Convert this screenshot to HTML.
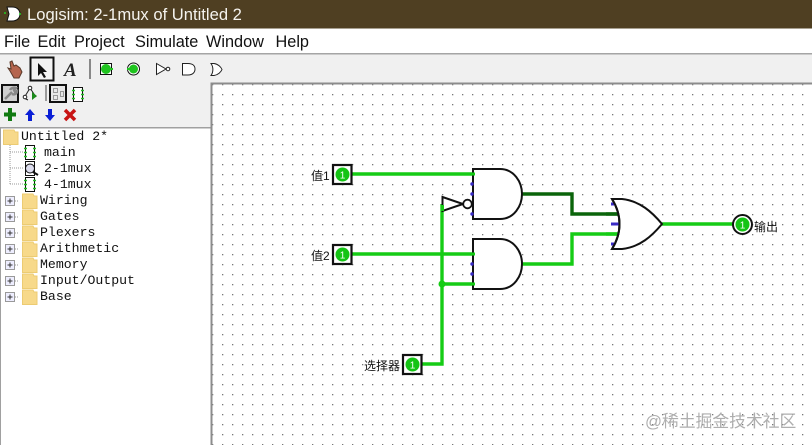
<!DOCTYPE html>
<html><head><meta charset="utf-8"><style>
html,body{margin:0;padding:0;background:#fff}
svg{display:block}
text{font-family:"Liberation Sans","Noto Sans CJK SC",sans-serif}
.m{font-family:"Liberation Mono","Noto Sans CJK SC",monospace;font-size:13.2px;fill:#111}
</style></head><body>
<svg width="812" height="445" viewBox="0 0 812 445" xmlns="http://www.w3.org/2000/svg">
<defs>
<pattern id="g" x="222" y="84" width="10" height="10" patternUnits="userSpaceOnUse"><rect width="1.3" height="1.3" fill="#777"/></pattern>
<g id="folder"><path d="M0.5 1H11L12 3H15V15.5H0.5Z" fill="#f7d98a" stroke="#eccb72" stroke-width="1"/></g>
<g id="plus"><rect x="0.5" y="0.5" width="9" height="9" fill="#eef" stroke="#999"/><path d="M2.5 5H7.5M5 2.5V7.5" stroke="#333"/><path d="M10 5H14" stroke="#999" stroke-dasharray="1 1"/></g>
<g id="chip"><rect x="0.5" y="0.5" width="9" height="14" fill="#fff" stroke="#111"/><path d="M-1 3.500H2M-1 7.500H2M-1 11.500H2M8 3.500H11M8 7.500H11M8 11.500H11" stroke="#22bb22" stroke-width="1.500"/></g>
</defs>
<rect width="812" height="445" fill="#fff"/>
<!-- title -->
<rect width="812" height="28.500" fill="#4f3f22"/>
<path d="M7 7H12C18 7 20 11 20 14C20 17 18 21 12 21H7L9 14Z" fill="#fff" stroke="#111"/>
<circle cx="5" cy="13" r="1" fill="#2c2"/><circle cx="20" cy="14" r="1" fill="#2c2"/>
<text x="27" y="20" font-size="16.600" fill="#f5f3ee">Logisim: 2-1mux of Untitled 2</text>
<!-- menu -->
<rect y="29" width="812" height="24" fill="#fff"/>
<text x="4" y="47" font-size="16.300" fill="#111">File</text>
<text x="37.500" y="47" font-size="16.300" fill="#111">Edit</text>
<text x="74" y="47" font-size="16.300" fill="#111">Project</text>
<text x="135" y="47" font-size="16.300" fill="#111">Simulate</text>
<text x="206" y="47" font-size="16.300" fill="#111">Window</text>
<text x="275.500" y="47" font-size="16.300" fill="#111">Help</text>
<rect y="53" width="812" height="1.500" fill="#a5a5a5"/>
<!-- toolbar -->
<rect y="54.500" width="812" height="28.500" fill="#f0f0f0"/>
<rect y="83" width="211" height="45" fill="#f0f0f0"/>
<path d="M10 62L12 61L14 66L16 65L20 68L22 72L19 78H14L10 71L8 68L11 69Z" fill="#b5654e" stroke="#5a3a2a" stroke-width="1"/>
<rect x="30.500" y="57.500" width="23" height="23" fill="#f3f3f3" stroke="#111" stroke-width="2"/>
<path d="M38 63V76L41 73L44 78L46 77L43 72H47Z" fill="#111"/>
<text x="64" y="76" font-size="19" font-weight="bold" font-style="italic" fill="#222" style="font-family:'Liberation Serif',serif">A</text>
<rect x="89" y="59" width="2" height="20" fill="#888"/>
<rect x="100.500" y="63.500" width="11" height="11" fill="#fff" stroke="#111"/>
<circle cx="106" cy="69" r="5" fill="#1fc41f"/><rect x="110" y="68" width="3" height="2" fill="#1fc41f"/>
<circle cx="133.500" cy="69" r="6" fill="#fff" stroke="#111"/><circle cx="133.500" cy="69" r="4.500" fill="#1fc41f"/><rect x="127" y="68" width="4" height="2" fill="#1fc41f"/>
<path d="M156.500 63.500L166 69L156.500 74.500Z" fill="#fff" stroke="#222"/><circle cx="168" cy="69" r="1.800" fill="#fff" stroke="#222"/>
<path d="M182.500 63.500H188C193 63.500 195 66 195 69C195 72 193 75 188 75H182.500Z" fill="#fff" stroke="#222"/>
<path d="M211 63.500H214C218 64 221 67 222 69.500C221 72 218 75 214 75.500H211C213.500 72 213.500 67 211 63.500Z" fill="#fff" stroke="#222"/>
<!-- second toolbar -->
<rect x="2" y="85" width="16" height="17" fill="#cfcfcf" stroke="#111" stroke-width="2"/>
<path d="M5 99L12 92M10 90C11 88 14 87 16 88L14 90L15 92L17 91C17 94 14 95 12 94" stroke="#888" stroke-width="2.500" fill="none"/>
<path d="M30 88L24 98M30 88L36 97M24 98L28 100" stroke="#222" stroke-width="1" fill="none"/>
<circle cx="30" cy="88" r="1.800" fill="#fff" stroke="#222"/><circle cx="25" cy="97" r="1.800" fill="#fff" stroke="#222"/>
<path d="M32 92V100L37 96Z" fill="#1b8a1b"/>
<rect x="45" y="85" width="2" height="16" fill="#9a9a9a"/>
<rect x="50" y="85" width="16" height="17" fill="#e8e8e8" stroke="#111" stroke-width="2"/>
<path d="M53.500 88.500h4v4h-4zM53.500 95.500h4v4h-4zM60.500 91.500h3v5h-3z" fill="none" stroke="#999"/>
<use href="#chip" x="73" y="87"/>
<path d="M10 108V121M4 114.500H16" stroke="#117a11" stroke-width="4"/>
<path d="M30 109L35 115H32V121H28V115H25Z" fill="#0a1fd6"/>
<path d="M48 109H52V115H55L50 121L45 115H48Z" fill="#0a1fd6"/>
<path d="M65 110L75 120M75 110L65 120" stroke="#c81414" stroke-width="3.500"/>
<!-- tree -->
<rect x="0" y="127" width="211" height="1.500" fill="#a0a0a0"/>
<rect x="0" y="128" width="1" height="317" fill="#a0a0a0"/>
<use href="#folder" x="3" y="129"/>
<text class="m" x="21" y="140">Untitled 2*</text>
<path d="M10 145V184M10 152H24M10 168H24M10 184H24" stroke="#999" stroke-dasharray="1 1" fill="none"/>
<use href="#chip" x="25" y="145"/>
<text class="m" x="44" y="156">main</text>
<rect x="25.500" y="161.500" width="9" height="14" fill="#fff" stroke="#111"/>
<circle cx="30" cy="168.500" r="4.500" fill="#dde" stroke="#111"/><path d="M33 172L38 175" stroke="#111" stroke-width="2"/>
<text class="m" x="44" y="172">2-1mux</text>
<use href="#chip" x="25" y="177"/>
<text class="m" x="44" y="188">4-1mux</text>
<use href="#plus" x="5" y="196"/><use href="#folder" x="22" y="193"/><text class="m" x="40" y="204">Wiring</text>
<use href="#plus" x="5" y="212"/><use href="#folder" x="22" y="209"/><text class="m" x="40" y="220">Gates</text>
<use href="#plus" x="5" y="228"/><use href="#folder" x="22" y="225"/><text class="m" x="40" y="236">Plexers</text>
<use href="#plus" x="5" y="244"/><use href="#folder" x="22" y="241"/><text class="m" x="40" y="252">Arithmetic</text>
<use href="#plus" x="5" y="260"/><use href="#folder" x="22" y="257"/><text class="m" x="40" y="268">Memory</text>
<use href="#plus" x="5" y="276"/><use href="#folder" x="22" y="273"/><text class="m" x="40" y="284">Input/Output</text>
<use href="#plus" x="5" y="292"/><use href="#folder" x="22" y="289"/><text class="m" x="40" y="300">Base</text>
<!-- canvas -->
<rect x="211" y="83" width="601" height="362" fill="url(#g)"/>
<path d="M211.500 445V83.500H812" fill="none" stroke="#8c8c8c" stroke-width="2"/>
<!-- wires -->
<g fill="none" stroke="#15cc15" stroke-width="3.400">
<path d="M352 174H473"/>
<path d="M352 254H473"/>
<path d="M442 284H473"/>
<path d="M442 204V364H422"/>
<path d="M522 264H572V234H619"/>
<path d="M662 224H734"/>
</g>
<path d="M522 194H572V214H618" fill="none" stroke="#0a640a" stroke-width="3.400"/>
<circle cx="442" cy="284" r="3.500" fill="#15cc15"/>
<!-- AND gates -->
<g fill="none" stroke="#111" stroke-width="2">
<path d="M473 169H500C514 169 522 182 522 194C522 206 514 219 500 219H473Z" fill="#fff"/>
<path d="M473 239H500C514 239 522 252 522 264C522 276 514 289 500 289H473Z" fill="#fff"/>
</g>
<path d="M472 174h3M472 254h3M472 284h3" stroke="#15cc15" stroke-width="3"/>
<g fill="#3a2bc4">
<circle cx="472" cy="184" r="1.700"/><circle cx="472" cy="194" r="1.700"/><circle cx="472" cy="214" r="1.700"/>
<circle cx="472" cy="264" r="1.700"/><circle cx="472" cy="274" r="1.700"/>
</g>
<!-- NOT -->
<path d="M442.500 197L463 204L442.500 211Z" fill="#fff" stroke="#111" stroke-width="2"/>
<circle cx="467.500" cy="204" r="4.300" fill="#fff" stroke="#111" stroke-width="1.800"/>
<rect x="441" y="205" width="3" height="6" fill="#15cc15"/>
<!-- OR -->
<path d="M612 199H622C640 201 652 212 662 224C652 236 640 247 622 249H612C622 233 622 215 612 199Z" fill="#fff" stroke="#111" stroke-width="2"/>
<path d="M606 214H618" stroke="#0a640a" stroke-width="3.400"/>
<path d="M606 234H619" stroke="#15cc15" stroke-width="3.400"/>
<path d="M611 204h4M611 244h4" stroke="#3a2bc4" stroke-width="3"/>
<path d="M611 224h8" stroke="#3a2bc4" stroke-width="3"/>
<path d="M612 199C622 215 622 233 612 249" fill="none" stroke="#111" stroke-width="2"/>
<!-- pins -->
<g>
<rect x="333" y="165" width="18.500" height="19" fill="#fff" stroke="#111" stroke-width="2.200"/>
<circle cx="342.500" cy="174.500" r="7" fill="#15c415"/>
<text x="342.500" y="178.500" font-size="10" fill="#fff" text-anchor="middle">1</text>
<rect x="333" y="245" width="18.500" height="19" fill="#fff" stroke="#111" stroke-width="2.200"/>
<circle cx="342.500" cy="254.500" r="7" fill="#15c415"/>
<text x="342.500" y="258.500" font-size="10" fill="#fff" text-anchor="middle">1</text>
<rect x="403" y="355" width="18.500" height="19" fill="#fff" stroke="#111" stroke-width="2.200"/>
<circle cx="412.500" cy="364.500" r="7" fill="#15c415"/>
<text x="412.500" y="368.500" font-size="10" fill="#fff" text-anchor="middle">1</text>
<circle cx="742.500" cy="224.500" r="9.500" fill="#fff" stroke="#111" stroke-width="2"/>
<circle cx="742.500" cy="224.500" r="7" fill="#15c415"/>
<text x="742.500" y="228.500" font-size="10" fill="#fff" text-anchor="middle">1</text>
</g>
<text x="311" y="180" font-size="12" fill="#111">值1</text>
<text x="311" y="260" font-size="12" fill="#111">值2</text>
<text x="364" y="370" font-size="12" fill="#111">选择器</text>
<text x="754" y="231" font-size="12" fill="#111">输出</text>
<text x="645" y="427" font-size="16.800" fill="#aeaeae">@稀土掘金技术社区</text>
</svg>
</body></html>
